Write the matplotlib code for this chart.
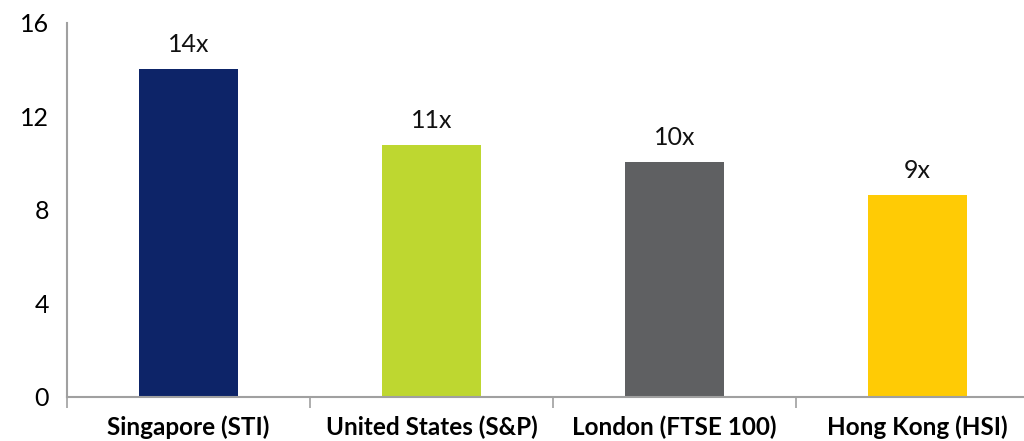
import matplotlib
matplotlib.use("Agg")
import matplotlib.pyplot as plt
from matplotlib.ticker import FixedLocator

categories = ["Singapore (STI)", "United States (S&P)", "London (FTSE 100)", "Hong Kong (HSI)"]
values = [14.05, 10.8, 10.05, 8.65]
labels = ["14x", "11x", "10x", "9x"]
colors = ["#0D2468", "#BED730", "#5F6062", "#FFCB05"]
yticks = [0, 4, 8, 12, 16]

plt.rcParams['font.family'] = ['Lato', 'DejaVu Sans']

fig = plt.figure(figsize=(10.24, 4.41), dpi=100)
ax = fig.add_axes([0.0654, 0.0998, 0.9492, 0.8482])
x = list(range(len(categories)))
bars = ax.bar(x, values, width=0.41, color=colors, zorder=2)
for xi, v, lab in zip(x, values, labels):
    ax.text(xi, v + 0.55, lab, ha='center', va='bottom', fontsize=18, color='#111111')

ax.set_xlim(-0.5, 3.5)
ax.set_ylim(0, 16)
ax.set_yticks(yticks)
ax.set_yticklabels([str(t) for t in yticks], fontsize=18)
ax.tick_params(axis='y', length=0, pad=13)

ax.set_xticks(x)
ax.set_xticklabels(categories, fontsize=17.5, fontweight='bold')
ax.tick_params(axis='x', which='major', length=0, pad=13)
ax.xaxis.set_minor_locator(FixedLocator([-0.5, 0.5, 1.5, 2.5, 3.5]))
ax.tick_params(axis='x', which='minor', length=8, width=1.2, color='#A0A0A0')

for s in ['top', 'right']:
    ax.spines[s].set_visible(False)
for s in ['left', 'bottom']:
    ax.spines[s].set_color('#A0A0A0')
    ax.spines[s].set_linewidth(1.5)

fig.savefig("out.png", dpi=100)
